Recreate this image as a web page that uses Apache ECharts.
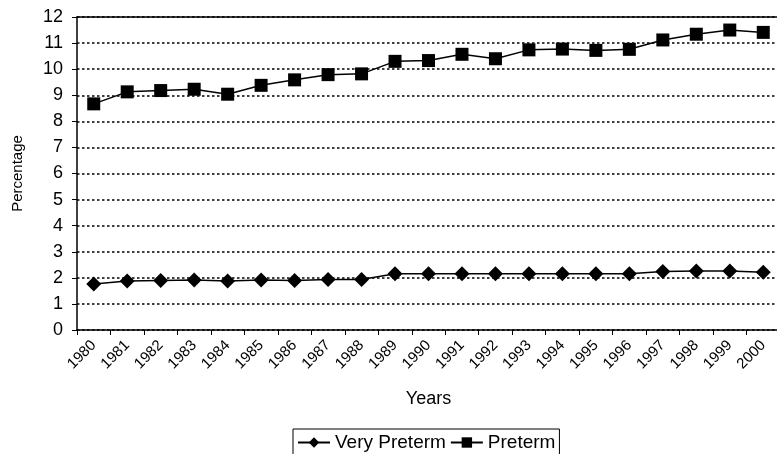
<!DOCTYPE html>
<html>
<head>
<meta charset="utf-8">
<script src="https://cdn.jsdelivr.net/npm/echarts@6/dist/echarts.min.js"></script>
<style>html,body{margin:0;padding:0;background:#fff}#c{width:777px;height:454px}</style>
</head>
<body>
<div id="c"></div>
<script>
const years = ['1980','1981','1982','1983','1984','1985','1986','1987','1988','1989','1990','1991','1992','1993','1994','1995','1996','1997','1998','1999','2000'];
const veryPreterm = [1.76,1.88,1.90,1.92,1.88,1.92,1.90,1.94,1.94,2.16,2.16,2.16,2.16,2.16,2.16,2.16,2.16,2.24,2.26,2.26,2.21];
const preterm = [8.67,9.13,9.18,9.23,9.04,9.38,9.59,9.79,9.82,10.30,10.33,10.57,10.40,10.74,10.77,10.72,10.76,11.12,11.34,11.50,11.41];
const yTicks = {min: 0, max: 12, interval: 1};

const font = 'Liberation Sans, Arial, sans-serif';
const chart = echarts.init(document.getElementById('c'), null, {renderer: 'canvas'});
chart.setOption({
  animation: false,
  backgroundColor: '#fff',
  textStyle: {fontFamily: font, color: '#000'},
  grid: {left: 77, top: 17, bottom: 124, right: -3, containLabel: false, outerBoundsMode: 'none'},
  legend: {
    left: 293, top: 429,
    padding: [4, 4, 4, 4],
    itemGap: 4,
    itemWidth: 32, itemHeight: 13,
    borderColor: '#000', borderWidth: 1,
    textStyle: {fontSize: 19, color: '#000', fontFamily: font},
    data: ['Very Preterm', 'Preterm']
  },
  xAxis: [{
    type: 'category',
    data: years,
    boundaryGap: true,
    name: 'Years',
    nameLocation: 'middle',
    nameGap: 60,
    nameTextStyle: {fontSize: 18, color: '#000', fontFamily: font},
    axisLine: {show: true, lineStyle: {color: '#000', width: 1.5}},
    axisTick: {show: true, length: 5, inside: false, lineStyle: {color: '#000', width: 1}},
    axisLabel: {rotate: 45, fontSize: 15, color: '#000', margin: 13, fontFamily: font, interval: 0},
    splitLine: {show: false}
  }, {
    type: 'category',
    data: years,
    position: 'top',
    axisLine: {show: true, lineStyle: {color: '#000', width: 1.5}},
    axisTick: {show: false},
    axisLabel: {show: false},
    splitLine: {show: false}
  }],
  yAxis: {
    type: 'value',
    min: yTicks.min, max: yTicks.max, interval: yTicks.interval,
    name: 'Percentage',
    nameLocation: 'middle',
    nameGap: 52,
    nameTextStyle: {fontSize: 15, color: '#000', fontFamily: font},
    axisLine: {show: true, lineStyle: {color: '#000', width: 1.5}},
    axisTick: {show: true, length: 5, lineStyle: {color: '#000', width: 1}},
    axisLabel: {fontSize: 18, color: '#000', margin: 14, fontFamily: font},
    splitLine: {show: true, lineStyle: {color: '#000', width: 1.5, type: [2.5, 2.5]}}
  },
  series: [{
    name: 'Very Preterm',
    type: 'line',
    data: veryPreterm,
    symbol: 'diamond',
    symbolSize: 15,
    lineStyle: {color: '#000', width: 1.5},
    itemStyle: {color: '#000'},
    z: 3
  }, {
    name: 'Preterm',
    type: 'line',
    data: preterm,
    symbol: 'rect',
    symbolSize: 13,
    lineStyle: {color: '#000', width: 1.5},
    itemStyle: {color: '#000'},
    z: 3
  }]
});
</script>
</body>
</html>
